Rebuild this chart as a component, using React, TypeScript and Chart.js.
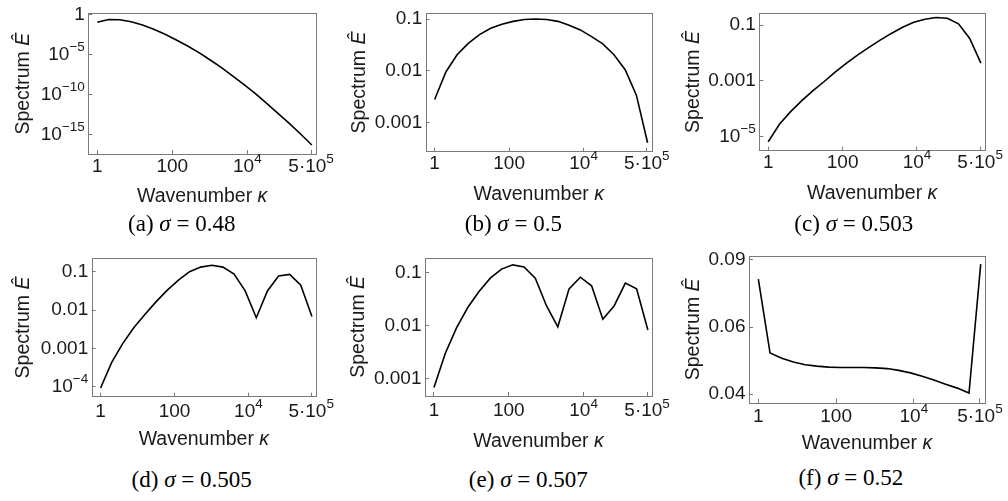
import React, { useEffect, useRef } from 'react';
import { Chart, registerables } from 'chart.js';

Chart.register(...registerables);

// ---- data -------------------------------------------------------------
const kappa = [1, 2, 4, 8, 16, 32, 64, 128, 256, 512, 1024, 2048, 4096, 8192, 16384, 32768, 65536, 131072, 262144, 524288];

const spectrumA = [0.11, 0.25, 0.23, 0.13, 0.051, 0.0145, 0.00347, 6.8e-4, 1.17e-4, 1.74e-5, 2.1e-6, 2.3e-7, 2.0e-8, 1.7e-9, 1.26e-10, 7.8e-12, 4.4e-13, 2.4e-14, 1.12e-15, 4.7e-17];
const spectrumB = [2.8e-3, 9.5e-3, 0.0204, 0.0339, 0.0501, 0.0661, 0.0794, 0.0902, 0.0977, 0.1, 0.0977, 0.0902, 0.0759, 0.0617, 0.0457, 0.0331, 0.0204, 0.0105, 0.00339, 4.1e-4];
const spectrumC = [6.6e-6, 2.8e-5, 7.9e-5, 1.95e-4, 4.5e-4, 9.5e-4, 2.1e-3, 4.3e-3, 8.5e-3, 0.0158, 0.0288, 0.05, 0.083, 0.126, 0.162, 0.186, 0.174, 0.11, 0.033, 0.0043];
const spectrumD = [9.3e-5, 4.3e-4, 1.35e-3, 3.5e-3, 7.8e-3, 0.0166, 0.0331, 0.0603, 0.1, 0.132, 0.148, 0.132, 0.087, 0.0316, 0.0063, 0.0316, 0.0776, 0.0851, 0.0447, 0.0068];
const spectrumE = [6.9e-4, 3.0e-3, 9.1e-3, 0.0219, 0.0437, 0.0776, 0.115, 0.138, 0.126, 0.0776, 0.0234, 0.0095, 0.049, 0.081, 0.056, 0.0132, 0.0234, 0.063, 0.049, 0.0083];
const spectrumF = [0.0802, 0.0513, 0.0497, 0.0486, 0.0478, 0.0474, 0.0471, 0.047, 0.047, 0.047, 0.0469, 0.0467, 0.0462, 0.0455, 0.0446, 0.0436, 0.0425, 0.0415, 0.0403, 0.0878];

// tick labels: "^" marks the start of a superscript
const xTickValues = [1, 100, 10000, 500000];
const xTickLabels = ['1', '100', '10^4', '5·10^5'];

const yTicksA = [1, 1e-5, 1e-10, 1e-15];
const yLabelsA = ['1', '10^−5', '10^−10', '10^−15'];
const yTicksB = [0.1, 0.01, 0.001];
const yLabelsB = ['0.1', '0.01', '0.001'];
const yTicksC = [0.1, 0.001, 1e-5];
const yLabelsC = ['0.1', '0.001', '10^−5'];
const yTicksD = [0.1, 0.01, 0.001, 1e-4];
const yLabelsD = ['0.1', '0.01', '0.001', '10^−4'];
const yTicksE = [0.1, 0.01, 0.001];
const yLabelsE = ['0.1', '0.01', '0.001'];
const yTicksF = [0.09, 0.06, 0.04];
const yLabelsF = ['0.09', '0.06', '0.04'];

const captionLetters = ['a', 'b', 'c', 'd', 'e', 'f'];
const sigmaValues = ['0.48', '0.5', '0.503', '0.505', '0.507', '0.52'];

// ---- layout / styling ---------------------------------------------------
const SANS = '"Liberation Sans", Arial, Helvetica, sans-serif';
const SERIF = '"Liberation Serif", "Times New Roman", serif';
const TEXT = '#1a1a1a';
const FRAME = '#7a7a7a';
const X_MIN = 0.575;
const X_MAX = 676000;
const TICK_SIZE = 19;
const SUP_SIZE = 13.5;
const SUP_RAISE = 7;
const TITLE_SIZE = 19.5;

type Rect = { x: number; y: number; w: number; h: number };
type Box = { L: number; T: number; R: number; B: number };

const panels = [
  { values: spectrumA, yTicks: yTicksA, yLabels: yLabelsA, yMin: 3.5e-18, yMax: 1.48,
    canvas: { x: 0, y: 0, w: 345, h: 212 }, box: { L: 88.3, T: 13.3, R: 316, B: 154 },
    xLabelY: 166.3, xTitleY: 196.7, yTitleX: 23.3, cap: { x: 181.7, y: 223.5 } },
  { values: spectrumB, yTicks: yTicksB, yLabels: yLabelsB, yMin: 2.75e-4, yMax: 0.129,
    canvas: { x: 335, y: 0, w: 345, h: 212 }, box: { L: 425.7, T: 13.3, R: 651.7, B: 151.7 },
    xLabelY: 163.3, xTitleY: 195, yTitleX: 360, cap: { x: 513.3, y: 223.5 } },
  { values: spectrumC, yTicks: yTicksC, yLabels: yLabelsC, yMin: 3.16e-6, yMax: 0.263,
    canvas: { x: 668, y: 0, w: 340, h: 212 }, box: { L: 759.3, T: 13.3, R: 985, B: 150.7 },
    xLabelY: 162.7, xTitleY: 193.3, yTitleX: 693.3, cap: { x: 853.8, y: 223.5 } },
  { values: spectrumD, yTicks: yTicksD, yLabels: yLabelsD, yMin: 5.5e-5, yMax: 0.224,
    canvas: { x: 0, y: 245, w: 345, h: 215 }, box: { L: 91.7, T: 258.3, R: 316, B: 396.7 },
    xLabelY: 411.5, xTitleY: 440, yTitleX: 23.3, cap: { x: 191.7, y: 480 } },
  { values: spectrumE, yTicks: yTicksE, yLabels: yLabelsE, yMin: 4.8e-4, yMax: 0.188,
    canvas: { x: 335, y: 245, w: 345, h: 215 }, box: { L: 425, T: 257.7, R: 652, B: 396 },
    xLabelY: 411, xTitleY: 441.7, yTitleX: 358.3, cap: { x: 528.3, y: 480 } },
  { values: spectrumF, yTicks: yTicksF, yLabels: yLabelsF, yMin: 0.038, yMax: 0.0922,
    canvas: { x: 668, y: 245, w: 340, h: 215 }, box: { L: 749, T: 256, R: 985, B: 402.7 },
    xLabelY: 416.7, xTitleY: 443.3, yTitleX: 693.3, cap: { x: 850.8, y: 478.3 } },
];

function labelIndex(vals: number[], v: number): number {
  for (let i = 0; i < vals.length; i++) {
    if (Math.abs(v - vals[i]) <= Math.abs(vals[i]) * 1e-6) return i;
  }
  return -1;
}

// draws "base^sup" label; align: 'center' | 'right'
function drawTickLabel(ctx: CanvasRenderingContext2D, label: string, x: number, y: number, align: 'center' | 'right') {
  const [base, sup] = label.split('^');
  const baseFont = `${TICK_SIZE}px ${SANS}`;
  const supFont = `${SUP_SIZE}px ${SANS}`;
  ctx.font = baseFont;
  const bw = ctx.measureText(base).width;
  let sw = 0;
  if (sup) { ctx.font = supFont; sw = ctx.measureText(sup).width; }
  const total = bw + sw;
  const x0 = align === 'center' ? x - total / 2 : x - total;
  ctx.fillStyle = TEXT;
  ctx.textAlign = 'left';
  ctx.textBaseline = 'middle';
  ctx.font = baseFont;
  ctx.fillText(base, x0, y);
  if (sup) { ctx.font = supFont; ctx.fillText(sup, x0 + bw, y - SUP_RAISE); }
}

function drawMixed(ctx: CanvasRenderingContext2D, parts: { t: string; it: boolean }[], cx: number, cy: number, rotate: boolean, size: number) {
  ctx.save();
  ctx.translate(cx, cy);
  if (rotate) ctx.rotate(-Math.PI / 2);
  ctx.textBaseline = 'middle';
  ctx.textAlign = 'left';
  ctx.fillStyle = TEXT;
  const fonts = parts.map((p) => `${p.it ? 'italic ' : ''}${size}px ${SANS}`);
  const widths = parts.map((p, i) => { ctx.font = fonts[i]; return ctx.measureText(p.t).width; });
  let x = -widths.reduce((a, b) => a + b, 0) / 2;
  parts.forEach((p, i) => { ctx.font = fonts[i]; ctx.fillText(p.t, x, 0); x += widths[i]; });
  ctx.restore();
}

function Panel({ cfg }: { cfg: typeof panels[number] }) {
  const ref = useRef<HTMLCanvasElement | null>(null);
  useEffect(() => {
    const canvas = ref.current;
    if (!canvas) return;
    const c: Rect = cfg.canvas;
    const box: Box = cfg.box;
    const framePlugin = {
      id: 'frameTitles',
      afterDraw(chart: any) {
        const { ctx, chartArea: a } = chart;
        ctx.save();
        ctx.strokeStyle = FRAME;
        ctx.lineWidth = 1;
        ctx.strokeRect(Math.round(a.left) + 0.5, Math.round(a.top) + 0.5, Math.round(a.right - a.left), Math.round(a.bottom - a.top));
        const xs = chart.scales.x;
        const ys = chart.scales.y;
        xs.ticks.forEach((t: any) => {
          const i = labelIndex(xTickValues, t.value);
          if (i >= 0) drawTickLabel(ctx, xTickLabels[i], xs.getPixelForValue(t.value), cfg.xLabelY - c.y, 'center');
        });
        ys.ticks.forEach((t: any) => {
          const i = labelIndex(cfg.yTicks, t.value);
          if (i >= 0) drawTickLabel(ctx, cfg.yLabels[i], a.left - 3.5, ys.getPixelForValue(t.value), 'right');
        });
        ctx.restore();
        drawMixed(ctx, [{ t: 'Wavenumber ', it: false }, { t: 'κ', it: true }], (a.left + a.right) / 2, cfg.xTitleY - c.y, false, TITLE_SIZE);
        drawMixed(ctx, [{ t: 'Spectrum ', it: false }, { t: 'Ê', it: true }], cfg.yTitleX - c.x, (a.top + a.bottom) / 2, true, TITLE_SIZE);
      },
    };
    const chart = new Chart(canvas, {
      type: 'line',
      data: {
        datasets: [{
          data: kappa.map((k, i) => ({ x: k, y: cfg.values[i] })),
          borderColor: '#000',
          borderWidth: 1.6,
          pointRadius: 0,
          tension: 0,
          fill: false,
        }],
      },
      options: {
        animation: false,
        responsive: false,
        layout: { padding: { top: box.T - c.y, right: c.x + c.w - box.R, left: 0, bottom: 0 } },
        plugins: { legend: { display: false }, tooltip: { enabled: false } },
        scales: {
          x: {
            type: 'logarithmic', position: 'bottom', min: X_MIN, max: X_MAX, bounds: 'data',
            afterBuildTicks: (s: any) => { s.ticks = xTickValues.map((v) => ({ value: v })); },
            afterFit: (s: any) => { s.height = c.y + c.h - box.B; s.paddingLeft = 0; s.paddingRight = 0; },
            ticks: { display: false, autoSkip: false, maxRotation: 0, minRotation: 0 },
            grid: { drawOnChartArea: false, drawTicks: true, tickLength: -4, color: FRAME },
            border: { display: false },
          },
          y: {
            type: 'logarithmic', position: 'left', min: cfg.yMin, max: cfg.yMax, bounds: 'data',
            afterBuildTicks: (s: any) => { s.ticks = cfg.yTicks.map((v) => ({ value: v })); },
            afterFit: (s: any) => { s.width = box.L - c.x; s.paddingTop = 0; s.paddingBottom = 0; },
            ticks: { display: false, autoSkip: false },
            grid: { drawOnChartArea: false, drawTicks: true, tickLength: -4, color: FRAME },
            border: { display: false },
          },
        },
      } as any,
      plugins: [framePlugin],
    });
    return () => chart.destroy();
  }, [cfg]);
  const c = cfg.canvas;
  return (
    <canvas
      ref={ref}
      width={c.w}
      height={c.h}
      style={{ position: 'absolute', left: c.x, top: c.y, width: c.w, height: c.h }}
    />
  );
}

export default function App() {
  return (
    <div style={{ position: 'absolute', left: 0, top: 0, width: 1008, height: 501, background: '#fff', overflow: 'hidden' }}>
      {panels.map((p, i) => (
        <Panel key={i} cfg={p} />
      ))}
      {panels.map((p, i) => (
        <div
          key={'cap' + i}
          style={{
            position: 'absolute', left: p.cap.x - 110, top: p.cap.y - 13, width: 220, height: 26,
            lineHeight: '26px', textAlign: 'center', fontFamily: SERIF, fontSize: 23, color: '#000',
            whiteSpace: 'nowrap',
          }}
        >
          ({captionLetters[i]}) <i>σ</i> = {sigmaValues[i]}
        </div>
      ))}
    </div>
  );
}
